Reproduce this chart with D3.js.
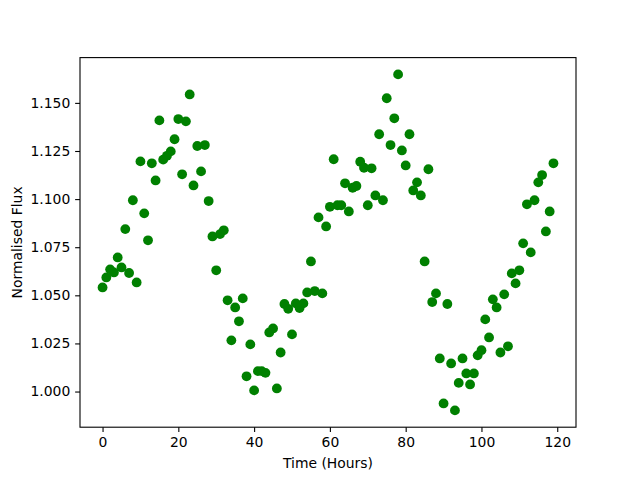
<!DOCTYPE html>
<html>
<head>
<meta charset="utf-8">
<script src="https://cdn.jsdelivr.net/npm/d3@7"></script>
<style>
  body { margin: 0; background: #fff; }
  text { font-family: "DejaVu Sans", sans-serif; }
</style>
</head>
<body>
<div id="scatter"></div>
<script>
// data (one reading per hour)
var hours = d3.range(0, 120);
var flux = [
  1.0541, 1.0593, 1.0635, 1.0619, 1.0697, 1.0645, 1.0844, 1.0616, 1.0994, 1.0567,
  1.1196, 1.0926, 1.0786, 1.1186, 1.1097, 1.1409, 1.1205, 1.1225, 1.1248, 1.1311,
  1.1416, 1.1129, 1.1404, 1.1544, 1.1071, 1.1276, 1.1144, 1.1281, 1.0990, 1.0806,
  1.0630, 1.0818, 1.0838, 1.0474, 1.0266, 1.0437, 1.0365, 1.0484, 1.0079, 1.0245,
  1.0006, 1.0106, 1.0106, 1.0097, 1.0307, 1.0328, 1.0016, 1.0203, 1.0455, 1.0430,
  1.0297, 1.0458, 1.0434, 1.0458, 1.0515, 1.0676, 1.0522, 1.0905, 1.0510, 1.0858,
  1.0960, 1.1207, 1.0968, 1.0968, 1.1082, 1.0936, 1.1059, 1.1068, 1.1194, 1.1163,
  1.0968, 1.1160, 1.1019, 1.1337, 1.0994, 1.1524, 1.1281, 1.1420, 1.1648, 1.1253,
  1.1175, 1.1337, 1.1045, 1.1087, 1.1019, 1.0676, 1.1155, 1.0465, 1.0510, 1.0172,
  0.9938, 1.0455, 1.0146, 0.9902, 1.0045, 1.0172, 1.0094, 1.0037, 1.0094, 1.0188,
  1.0215, 1.0375, 1.0281, 1.0479, 1.0437, 1.0203, 1.0505, 1.0235, 1.0614, 1.0562,
  1.0630, 1.0770, 1.0973, 1.0723, 1.0994, 1.1087, 1.1125, 1.0832, 1.0936, 1.1186
];
var xTicks = [0, 20, 40, 60, 80, 100, 120];
var yTicks = [1.000, 1.025, 1.050, 1.075, 1.100, 1.125, 1.150];

var data = hours.map(function (h, i) { return {t: h, f: flux[i]}; });

// set the dimensions and margins of the graph
var margin = {top: 57.6, right: 64, bottom: 52.8, left: 80},
    width = 640 - margin.left - margin.right,
    height = 480 - margin.top - margin.bottom;

var svg = d3.select("#scatter")
  .append("svg")
  .attr("width", 640)
  .attr("height", 480);
var chart = svg.append("g")
  .attr("transform", "translate(" + margin.left + "," + margin.top + ")");

// matplotlib-style 5% padding around the data
function padded(ext) {
  var p = (ext[1] - ext[0]) * 0.05;
  return [ext[0] - p, ext[1] + p];
}

var xScale = d3.scaleLinear()
  .domain(padded(d3.extent(data, d => d.t)))
  .range([0, width]);
var yScale = d3.scaleLinear()
  .domain(padded(d3.extent(data, d => d.f)))
  .range([height, 0]);

var tickLen = 4.86;

var xAxis = chart.append("g")
  .attr("transform", "translate(0," + height + ")")
  .call(d3.axisBottom(xScale).tickValues(xTicks).tickFormat(d3.format("d"))
    .tickSize(tickLen).tickPadding(4.86).tickSizeOuter(0));

var yAxis = chart.append("g")
  .call(d3.axisLeft(yScale).tickValues(yTicks).tickFormat(d3.format(".3f"))
    .tickSize(tickLen).tickPadding(4.86).tickSizeOuter(0));

[xAxis, yAxis].forEach(function (ax) {
  ax.select(".domain").remove();
  ax.selectAll(".tick line").attr("stroke", "#000").attr("stroke-width", 1.1);
  ax.selectAll(".tick text")
    .attr("fill", "#000")
    .style("font-family", "'DejaVu Sans', sans-serif")
    .style("font-size", "13.9px");
});

// frame
chart.append("rect")
  .attr("x", 0)
  .attr("y", 0)
  .attr("width", width)
  .attr("height", height)
  .attr("fill", "none")
  .attr("stroke", "#000")
  .attr("stroke-width", 1.1);

// dots
chart.selectAll("circle")
  .data(data)
  .enter()
  .append("circle")
  .attr("cx", function (d) { return xScale(d.t); })
  .attr("cy", function (d) { return yScale(d.f); })
  .attr("r", 4.9)
  .style("fill", "#008000");

// X axis label
svg.append("text")
  .attr("text-anchor", "middle")
  .attr("x", margin.left + width / 2)
  .attr("y", 468)
  .style("font-size", "13.9px")
  .text("Time (Hours)");

// Y axis label
svg.append("text")
  .attr("text-anchor", "middle")
  .attr("transform", "translate(22," + (margin.top + height / 2) + ") rotate(-90)")
  .style("font-size", "13.9px")
  .text("Normalised Flux");
</script>
</body>
</html>
